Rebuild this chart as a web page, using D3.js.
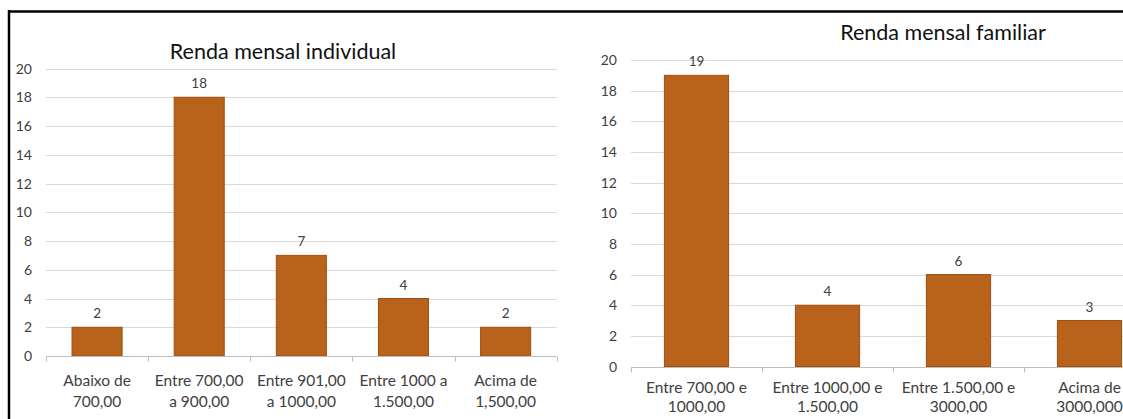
<!DOCTYPE html>
<html>
<head>
<meta charset="utf-8">
<script src="https://cdn.jsdelivr.net/npm/d3@7"></script>
<style>
  html, body { margin: 0; padding: 0; background: #fff; }
  svg { display: block; font-family: Lato, "Open Sans", sans-serif; }
</style>
</head>
<body>
<svg id="chart" width="1123" height="419"></svg>
<script>
// individual income
const indivTitle = "Renda mensal individual";
const indivCats = [["Abaixo de", "700,00"], ["Entre 700,00", "a 900,00"], ["Entre 901,00", "a 1000,00"], ["Entre 1000 a", "1.500,00"], ["Acima de", "1,500,00"]];
const indivValues = [2, 18, 7, 4, 2];

// family income
const famTitle = "Renda mensal familiar";
const famCats = [["Entre 700,00 e", "1000,00"], ["Entre 1000,00 e", "1.500,00"], ["Entre 1.500,00 e", "3000,00"], ["Acima de", "3000,000"]];
const famValues = [19, 4, 6, 3];

const yTicks = [0, 2, 4, 6, 8, 10, 12, 14, 16, 18, 20];

const barColor = "#b8621b";
const barStroke = "#9c4f12";
const gridColor = "#d9d9d9";

const svg = d3.select("#chart");

// frame: top and left border lines
svg.append("line").attr("x1", 8).attr("x2", 1123).attr("y1", 11.5).attr("y2", 11.5)
  .attr("stroke", "#000").attr("stroke-width", 2.5);
svg.append("line").attr("x1", 9).attr("x2", 9).attr("y1", 10).attr("y2", 419)
  .attr("stroke", "#000").attr("stroke-width", 2.5);

function drawChart(cfg) {
  const g = svg.append("g");
  const labels = cfg.cats.map(c => c.join(" "));

  const x = d3.scaleBand().domain(labels).range([cfg.left, cfg.right]).padding(0);
  const y = d3.scaleLinear().domain([0, 20]).range([cfg.bottom, cfg.top]);

  // gridlines
  g.append("g").selectAll("line")
    .data(yTicks.filter(t => t > 0))
    .join("line")
    .attr("x1", cfg.left).attr("x2", cfg.gridEnd)
    .attr("y1", d => Math.round(y(d)) + 0.5).attr("y2", d => Math.round(y(d)) + 0.5)
    .attr("stroke", gridColor).attr("stroke-width", 1);

  // y labels
  g.append("g").selectAll("text")
    .data(yTicks)
    .join("text")
    .attr("x", cfg.yLabelX)
    .attr("y", d => y(d) + 5)
    .attr("text-anchor", "end")
    .attr("font-size", 14)
    .attr("fill", "#404040")
    .text(d => d);

  // bars
  const bw = x.bandwidth() * 0.49;
  g.append("g").selectAll("rect")
    .data(cfg.values)
    .join("rect")
    .attr("x", (d, i) => x(labels[i]) + (x.bandwidth() - bw) / 2)
    .attr("y", d => y(d))
    .attr("width", bw)
    .attr("height", d => y(0) - y(d))
    .attr("fill", barColor)
    .attr("stroke", barStroke)
    .attr("stroke-width", 1);

  // value labels
  g.append("g").selectAll("text")
    .data(cfg.values)
    .join("text")
    .attr("x", (d, i) => x(labels[i]) + x.bandwidth() / 2)
    .attr("y", d => y(d) - 9)
    .attr("text-anchor", "middle")
    .attr("font-size", 13.5)
    .attr("fill", "#404040")
    .text(d => d);

  // category axis
  const base = Math.round(y(0)) + 0.5;
  g.append("line").attr("x1", cfg.left).attr("x2", cfg.gridEnd)
    .attr("y1", base).attr("y2", base)
    .attr("stroke", "#bfbfbf");
  g.append("g").selectAll("line")
    .data(labels.map(l => x(l)).concat([cfg.right]))
    .join("line")
    .attr("x1", d => Math.round(d) + 0.5).attr("x2", d => Math.round(d) + 0.5)
    .attr("y1", base).attr("y2", base + 5)
    .attr("stroke", "#bfbfbf");

  const cat = g.append("g").selectAll("text")
    .data(cfg.cats)
    .join("text")
    .attr("text-anchor", "middle")
    .attr("font-size", 15.5)
    .attr("fill", "#404040");
  cat.selectAll("tspan")
    .data((d, i) => d.map(s => ({ s, i })))
    .join("tspan")
    .attr("x", d => x(labels[d.i]) + x.bandwidth() / 2)
    .attr("y", (d, j) => cfg.catY + j * cfg.catLine)
    .text(d => d.s);

  // title
  g.append("text")
    .attr("x", cfg.titleX).attr("y", cfg.titleY)
    .attr("text-anchor", "middle")
    .attr("font-size", 21.5)
    .attr("fill", "#111")
    .text(cfg.title);
}

drawChart({
  title: indivTitle, cats: indivCats, values: indivValues,
  left: 46, right: 556.7, gridEnd: 556.7, top: 68.5, bottom: 356,
  yLabelX: 32, catY: 386, catLine: 21, titleX: 283, titleY: 58.5
});

drawChart({
  title: famTitle, cats: famCats, values: famValues,
  left: 631, right: 1155, gridEnd: 1155, top: 60, bottom: 366.5,
  yLabelX: 617, catY: 393, catLine: 19, titleX: 943, titleY: 40
});
</script>
</body>
</html>
